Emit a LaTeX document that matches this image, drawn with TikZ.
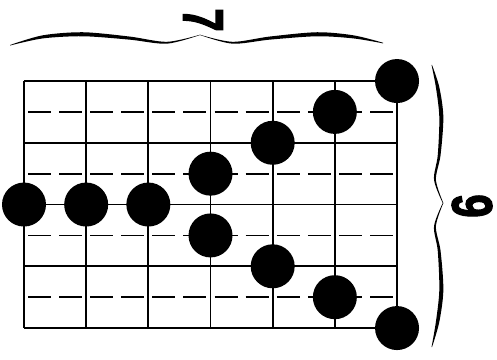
\documentclass[tikz,border=0pt]{standalone}
\usepackage{fontspec}
\usepackage{graphicx}
\setmainfont{Liberation Sans}
\newfontfamily\heavydigits{Liberation Sans Bold}[FakeBold=2.5]
\usepackage{tikz}

\begin{document}
\begin{tikzpicture}[
    x=1.2433cm, y=1.235cm,
    gridline/.style={line width=1pt},
    halfline/.style={line width=1pt,dash pattern=on 0.46cm off 0.1617cm,dash phase=0.5408cm},
    dot/.style={circle,fill=black,inner sep=0pt,minimum size=0.88cm},
    digit/.style={rotate=-90,inner sep=0pt,font=\heavydigits\fontsize{24}{24}\selectfont}
  ]
    \useasboundingbox (-0.386,-4.502) rectangle (7.608,1.312);

    \foreach \c in {0,...,6}
      \draw[gridline] (\c,0) -- (\c,-4);
    \foreach \r in {0,...,4}
      \draw[gridline] (0,-\r) -- (6,-\r);
    \foreach \r in {0.5,1.5,2.5,3.5}
      \draw[halfline] (0,-\r) -- (6,-\r);

    \node[dot] (d1) at (0,-2) {};
    \node[dot] (d2) at (1,-2) {};
    \node[dot] (d3) at (2,-2) {};
    \node[dot] (d4) at (3,-1.5) {};
    \node[dot] (d5) at (3,-2.5) {};
    \node[dot] (d6) at (4,-1) {};
    \node[dot] (d7) at (4,-3) {};
    \node[dot] (d8) at (5,-0.5) {};
    \node[dot] (d9) at (5,-3.5) {};
    \node[dot] (d10) at (6,0) {};
    \node[dot] (d11) at (6,-4) {};

    \fill plot[smooth] coordinates {(-0.225,0.583) (0.3,0.74) (0.949,0.790) (1.7,0.72) (2.3,0.635) (2.831,0.750)}
      -- plot[smooth] coordinates {(2.831,0.745) (2.3,0.605) (1.7,0.67) (0.949,0.725) (0.3,0.69) (-0.225,0.575)} -- cycle;
    \fill plot[smooth] coordinates {(2.831,0.750) (3.35,0.635) (3.95,0.72) (4.713,0.790) (5.3,0.74) (5.775,0.62)}
      -- plot[smooth] coordinates {(5.775,0.61) (5.3,0.69) (4.713,0.725) (3.95,0.67) (3.35,0.605) (2.831,0.745)} -- cycle;
    \node[digit] (toplabel) at (2.879,0.988) {\scalebox{1}[1.35]{7}};

    \fill plot[smooth] coordinates {(6.563,0.26) (6.68,-0.1) (6.745,-0.583) (6.70,-1.2) (6.625,-1.6) (6.745,-1.976)}
      -- plot[smooth] coordinates {(6.735,-1.976) (6.595,-1.6) (6.655,-1.2) (6.68,-0.583) (6.625,-0.1) (6.555,0.26)} -- cycle;
    \fill plot[smooth] coordinates {(6.745,-1.976) (6.625,-2.35) (6.70,-2.75) (6.745,-3.385) (6.68,-3.9) (6.563,-4.308)}
      -- plot[smooth] coordinates {(6.555,-4.308) (6.625,-3.9) (6.68,-3.385) (6.655,-2.75) (6.595,-2.35) (6.735,-1.976)} -- cycle;
    \node[digit] (sidelabel) at (7.206,-2.024) {\scalebox{1}[1.35]{9}};
  \end{tikzpicture}
\end{document}
